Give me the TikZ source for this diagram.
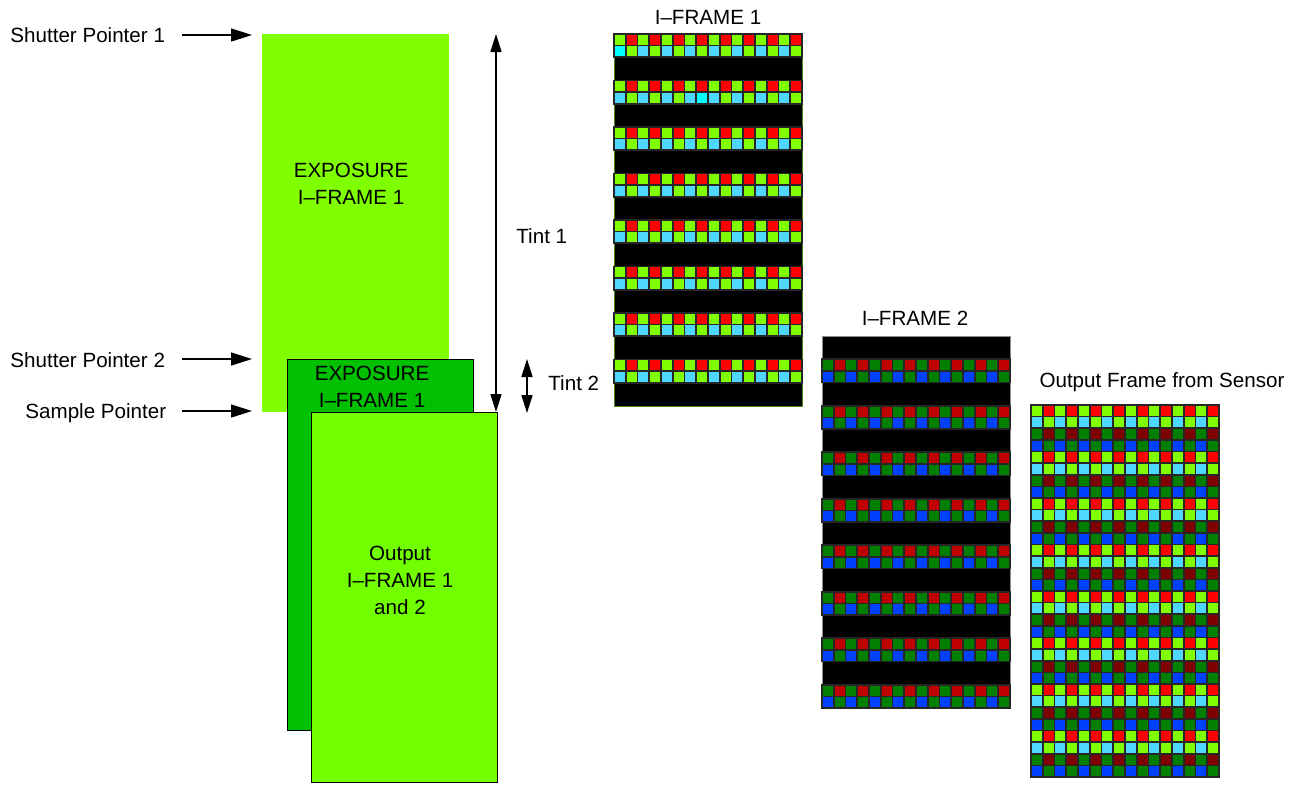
\documentclass[tikz,border=0pt]{standalone}
\usepackage{fontspec}
\setmainfont{Liberation Sans}
\usetikzlibrary{arrows.meta}
\definecolor{limeg}{HTML}{80FF00}
\definecolor{limef}{HTML}{72FF00}
\definecolor{darkg}{HTML}{00C000}
\definecolor{redc}{HTML}{FF0000}
\definecolor{cyanl}{HTML}{4FD8FF}
\definecolor{cyanb}{HTML}{00FFFF}
\definecolor{dkgreen}{HTML}{007F00}
\definecolor{redm}{HTML}{C00000}
\definecolor{maroon}{HTML}{7F0000}
\definecolor{bluec}{HTML}{0040FF}
\definecolor{olive}{HTML}{4C8C10}
\tikzset{
  lbl/.style={font=\fontsize{10.3}{13.5}\selectfont, inner sep=0pt, align=center},
  arr/.style={line width=0.75pt, -{Triangle[length=10.5pt,width=6.5pt]}},
  darr/.style={line width=0.75pt, {Triangle[length=9pt,width=5.5pt]}-{Triangle[length=9pt,width=5.5pt]}},
  cell/.style={draw=black!85, line width=0.8pt},
  framebox/.style={fill=black, inner sep=0pt, minimum width=94pt, minimum height=186pt, anchor=north west},
  panel/.style={inner sep=0pt, anchor=north west}
}
\begin{document}
\begin{tikzpicture}[x=0.5pt,y=-0.5pt]
\useasboundingbox (0,0) rectangle (1299,784);
% left panels
\node[panel, fill=limeg, minimum width=93.5pt, minimum height=189pt] (exp1) at (262,34) {};
\node[panel, fill=darkg, draw=black, line width=0.5pt, minimum width=93pt, minimum height=185.5pt] (exp2) at (287,359) {};
\node[panel, fill=limef, draw=black, line width=0.5pt, minimum width=93pt, minimum height=185pt] (outp) at (311,412) {};
\node[lbl, anchor=base] (t1) at (351,204) {EXPOSURE\\I–FRAME 1};
\node[lbl, anchor=base] (t2) at (372,407) {EXPOSURE\\I–FRAME 1};
\node[lbl, anchor=base] (t3) at (400,614) {Output\\I–FRAME 1\\and 2};
% pointer labels and arrows
\node[lbl, anchor=base west] (sp1) at (10,42) {Shutter Pointer 1};
\node[lbl, anchor=base west] (sp2) at (10,367) {Shutter Pointer 2};
\node[lbl, anchor=base west] (smp) at (25,418) {Sample Pointer};
\coordinate (a1s) at (182,35); \coordinate (a1e) at (252,35);
\coordinate (a2s) at (182,359); \coordinate (a2e) at (252,359);
\coordinate (a3s) at (182,411); \coordinate (a3e) at (252,411);
\draw[arr] (a1s) -- (a1e);
\draw[arr] (a2s) -- (a2e);
\draw[arr] (a3s) -- (a3e);
% tint arrows
\coordinate (ti1t) at (496,34); \coordinate (ti1b) at (496,412);
\draw[darr] (ti1t) -- (ti1b);
\node[lbl, anchor=base west] (tint1) at (516,243) {Tint 1};
\coordinate (ti2t) at (527,359); \coordinate (ti2b) at (527,413);
\draw[darr] (ti2t) -- (ti2b);
\node[lbl, anchor=base west] (tint2) at (548,390) {Tint 2};
% frames
\node[framebox, draw=olive, line width=0.5pt] (f1) at (614,34) {};
\node[framebox, draw=black!45, line width=0.5pt] (f2) at (822,336) {};
\node[framebox, draw=black!70, line width=0.5pt] (f3) at (1031,405) {};
\node[lbl, anchor=base] (h1) at (708,24) {I–FRAME 1};
\node[lbl, anchor=base] (h2) at (915,325) {I–FRAME 2};
\node[lbl, anchor=base] (h3) at (1162,387) {Output Frame from Sensor};
% frame 1 cells
\foreach \p in {0,...,7}{\foreach \c in {0,...,15}{
  \pgfmathsetmacro\xx{614+\c*11.75}
  \pgfmathsetmacro\ya{34+4*\p*11.625}
  \ifodd\c \def\ca{redc}\def\cb{limeg}\else\def\ca{limeg}\def\cb{cyanl}\fi
  \draw[cell,fill=\ca] (\xx,\ya) rectangle ++(11.75,11.625);
  \draw[cell,fill=\cb] (\xx,\ya+11.625) rectangle ++(11.75,11.625);
}}
\draw[cell,fill=cyanb] (614,45.625) rectangle ++(11.75,11.625);
\draw[cell,fill=cyanb] (696.25,92.125) rectangle ++(11.75,11.625);
% frame 2 cells
\foreach \p in {0,...,7}{\foreach \c in {0,...,15}{
  \pgfmathsetmacro\xx{822+\c*11.75}
  \pgfmathsetmacro\ya{336+(4*\p+2)*11.625}
  \ifodd\c \def\ca{redm}\def\cb{dkgreen}\else\def\ca{dkgreen}\def\cb{bluec}\fi
  \draw[cell,fill=\ca] (\xx,\ya) rectangle ++(11.75,11.625);
  \draw[cell,fill=\cb] (\xx,\ya+11.625) rectangle ++(11.75,11.625);
}}
% output frame cells
\foreach \p in {0,...,7}{\foreach \c in {0,...,15}{
  \pgfmathsetmacro\xx{1031+\c*11.75}
  \pgfmathsetmacro\ya{405+4*\p*11.625}
  \ifodd\c \def\ca{redc}\def\cb{limeg}\def\cc{maroon}\def\cd{dkgreen}\else\def\ca{limeg}\def\cb{cyanl}\def\cc{dkgreen}\def\cd{bluec}\fi
  \draw[cell,fill=\ca] (\xx,\ya) rectangle ++(11.75,11.625);
  \draw[cell,fill=\cb] (\xx,\ya+11.625) rectangle ++(11.75,11.625);
  \draw[cell,fill=\cc] (\xx,\ya+23.25) rectangle ++(11.75,11.625);
  \draw[cell,fill=\cd] (\xx,\ya+34.875) rectangle ++(11.75,11.625);
}}
\end{tikzpicture}
\end{document}
